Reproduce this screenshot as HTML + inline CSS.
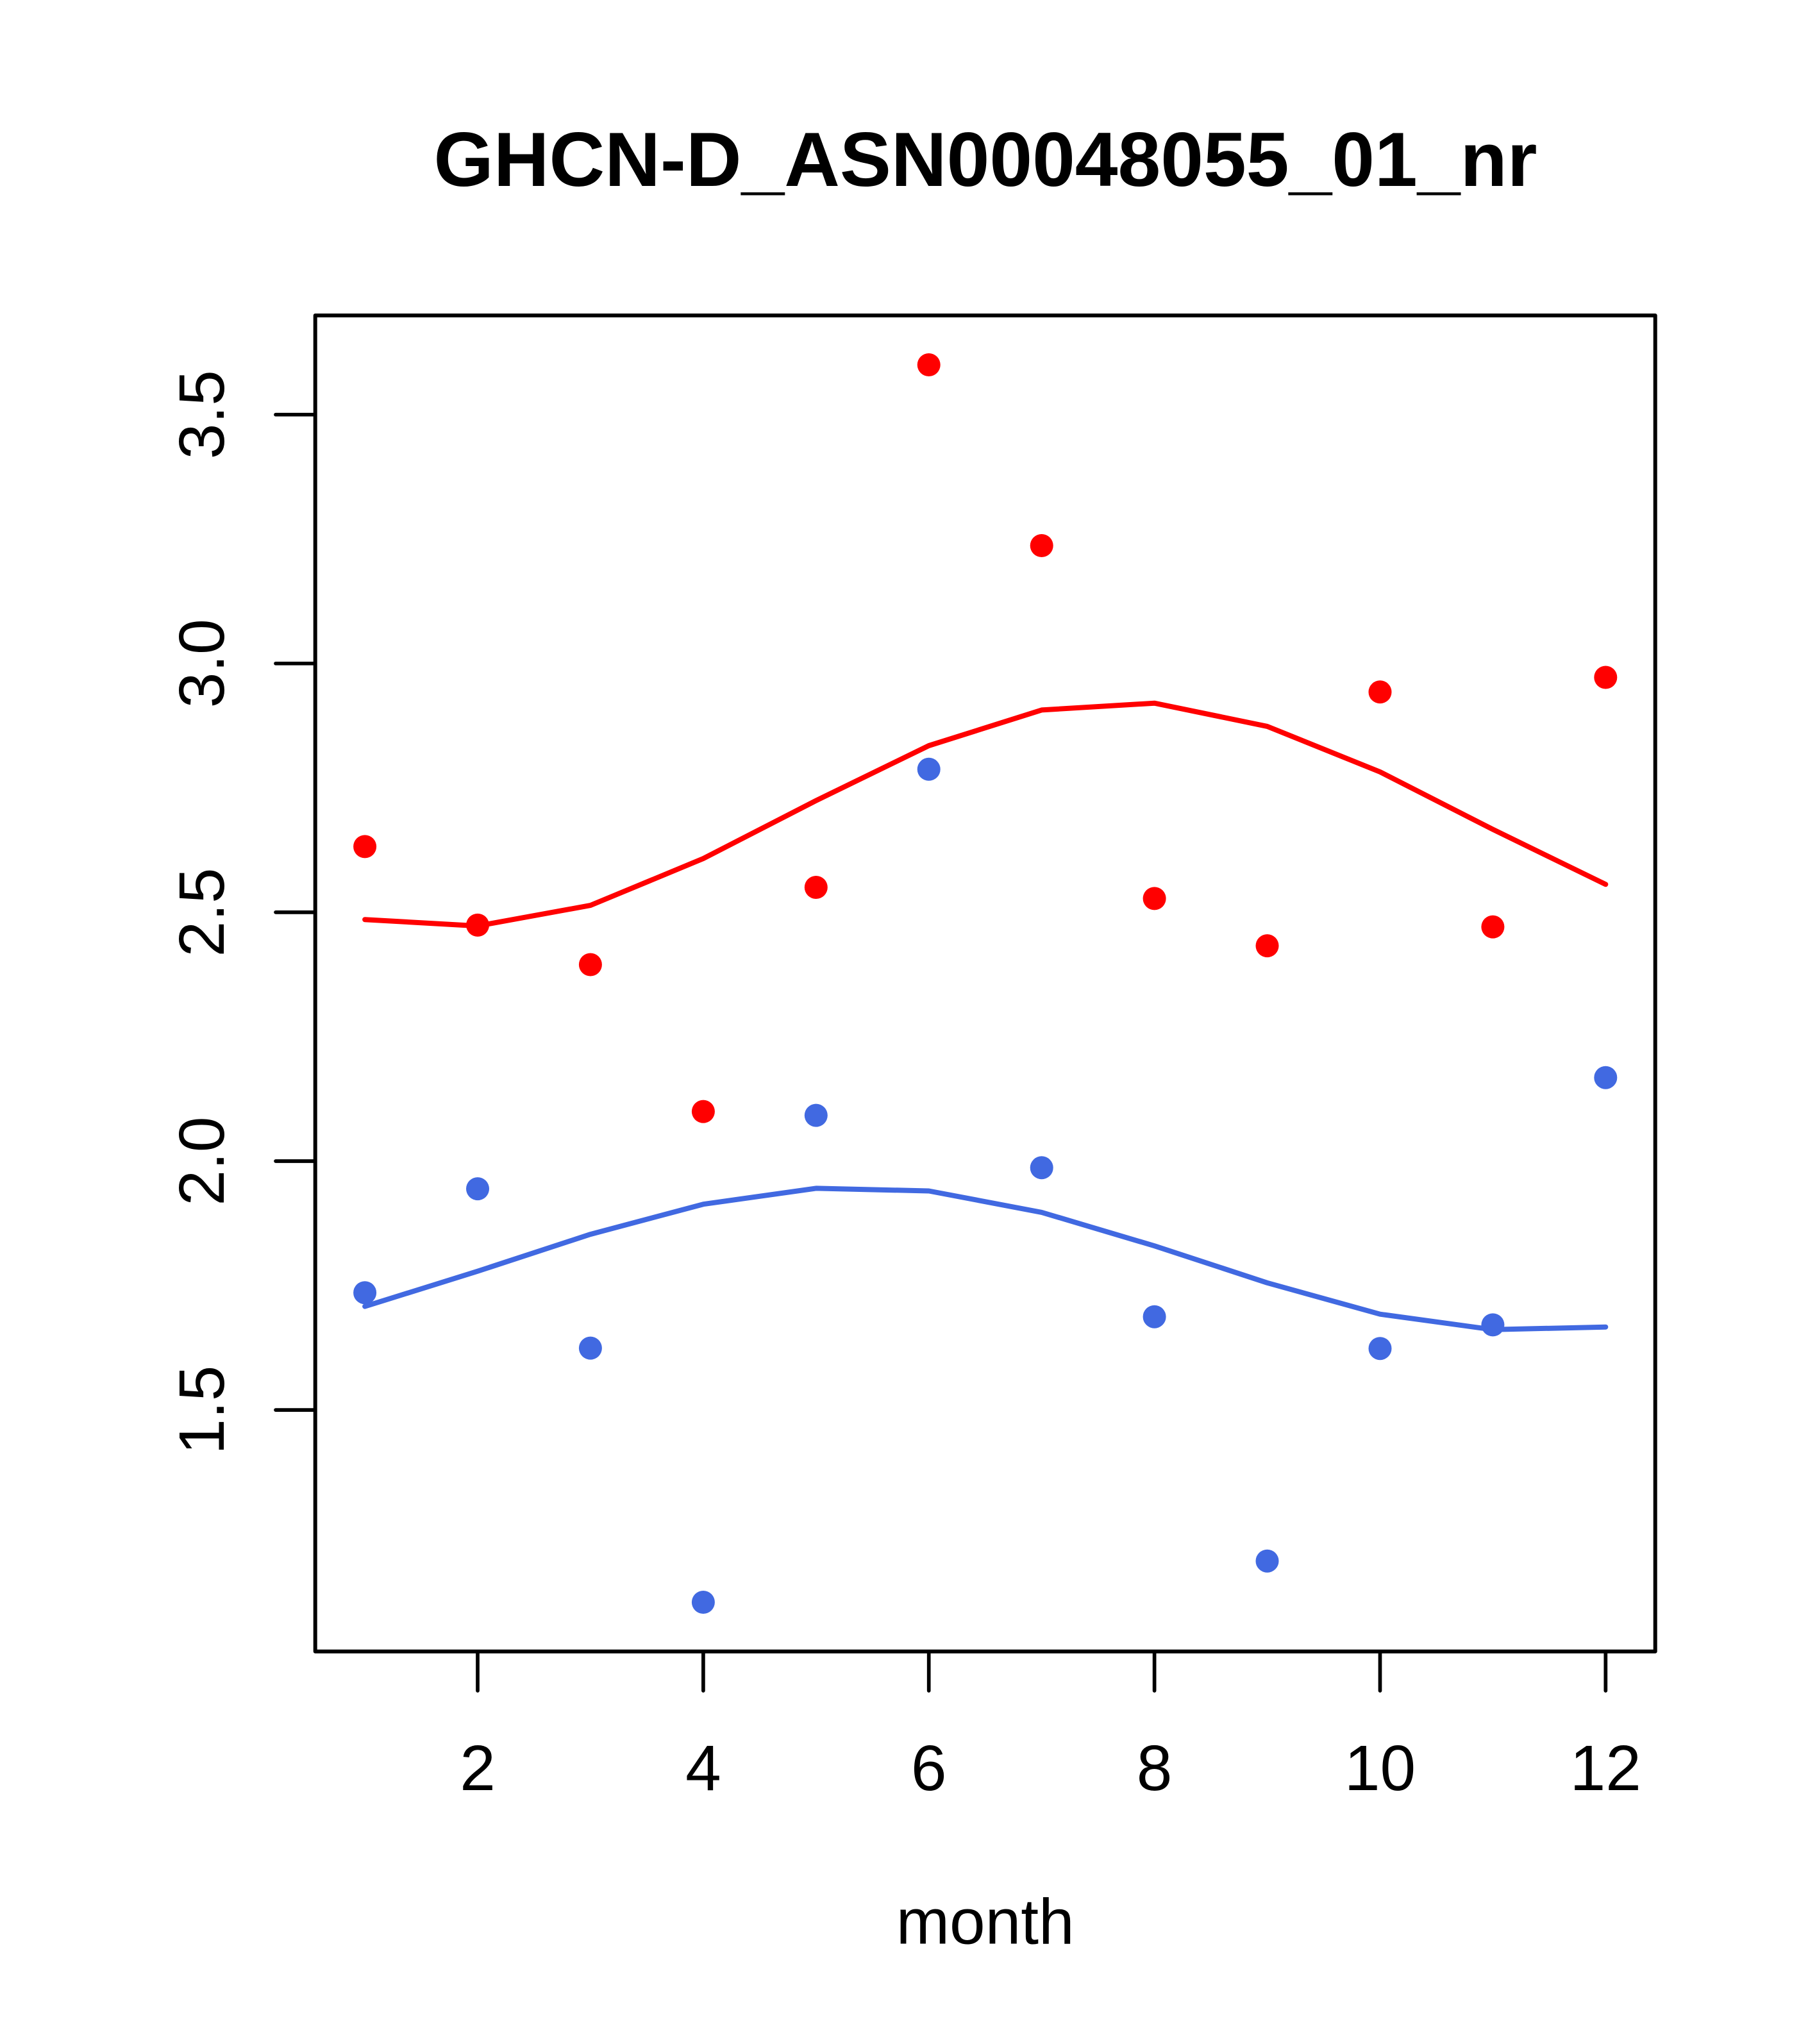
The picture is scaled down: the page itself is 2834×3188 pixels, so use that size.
<!DOCTYPE html>
<html>
<head>
<meta charset="utf-8">
<style>
  html, body { margin: 0; padding: 0; background: #ffffff; }
  svg { display: block; }
  text { font-family: "Liberation Sans", "DejaVu Sans", sans-serif; fill: #000; }
</style>
</head>
<body>
<svg width="2834" height="3188" viewBox="0 0 2834 3188" xmlns="http://www.w3.org/2000/svg">
  <rect x="0" y="0" width="2834" height="3188" fill="#ffffff"/>

  <!-- Title -->
  <text x="1537" y="290" font-size="120" font-weight="bold" text-anchor="middle">GHCN-D_ASN00048055_01_nr</text>

  <!-- Red points -->
  <g fill="#ff0000">
    <circle cx="569.1" cy="1320.4" r="18"/>
    <circle cx="745.0" cy="1442.9" r="18"/>
    <circle cx="920.9" cy="1504.5" r="18"/>
    <circle cx="1096.9" cy="1733.6" r="18"/>
    <circle cx="1272.8" cy="1384.0" r="18"/>
    <circle cx="1448.7" cy="569.0" r="18"/>
    <circle cx="1624.7" cy="851.0" r="18"/>
    <circle cx="1800.6" cy="1401.4" r="18"/>
    <circle cx="1976.5" cy="1475.1" r="18"/>
    <circle cx="2152.5" cy="1079.3" r="18"/>
    <circle cx="2328.4" cy="1445.6" r="18"/>
    <circle cx="2504.3" cy="1056.5" r="18"/>
  </g>

  <!-- Blue points -->
  <g fill="#4169e1">
    <circle cx="569.1" cy="2016.2" r="18"/>
    <circle cx="745.0" cy="1854.1" r="18"/>
    <circle cx="920.9" cy="2102.6" r="18"/>
    <circle cx="1096.9" cy="2499.0" r="18"/>
    <circle cx="1272.8" cy="1739.6" r="18"/>
    <circle cx="1448.7" cy="1199.8" r="18"/>
    <circle cx="1624.7" cy="1821.3" r="18"/>
    <circle cx="1800.6" cy="2053.7" r="18"/>
    <circle cx="1976.5" cy="2434.7" r="18"/>
    <circle cx="2152.5" cy="2103.2" r="18"/>
    <circle cx="2328.4" cy="2066.4" r="18"/>
    <circle cx="2504.3" cy="1680.7" r="18"/>
  </g>

  <!-- Red smooth line -->
  <polyline fill="none" stroke="#ff0000" stroke-width="8" stroke-linecap="round" stroke-linejoin="round"
    points="569.1,1434.2 745.0,1444.2 920.9,1412.1 1096.9,1339.1 1272.8,1248.7 1448.7,1163.0 1624.7,1107.4 1800.6,1096.7 1976.5,1132.9 2152.5,1203.9 2328.4,1293.6 2504.3,1379.3"/>

  <!-- Blue smooth line -->
  <polyline fill="none" stroke="#4169e1" stroke-width="8" stroke-linecap="round" stroke-linejoin="round"
    points="569.1,2037.6 745.0,1982.7 920.9,1925.1 1096.9,1878.2 1272.8,1853.4 1448.7,1857.5 1624.7,1890.9 1800.6,1943.2 1976.5,2000.8 2152.5,2049.7 2328.4,2073.8 2504.3,2069.7"/>

  <!-- Plot box -->
  <rect x="491.7" y="492" width="2090" height="2083.7" fill="none" stroke="#000" stroke-width="6" stroke-linejoin="round"/>

  <!-- X ticks -->
  <g stroke="#000" stroke-width="5.7" stroke-linecap="round">
    <line x1="745.0" y1="2576" x2="745.0" y2="2637"/>
    <line x1="1096.9" y1="2576" x2="1096.9" y2="2637"/>
    <line x1="1448.7" y1="2576" x2="1448.7" y2="2637"/>
    <line x1="1800.6" y1="2576" x2="1800.6" y2="2637"/>
    <line x1="2152.5" y1="2576" x2="2152.5" y2="2637"/>
    <line x1="2504.3" y1="2576" x2="2504.3" y2="2637"/>
  </g>
  <g font-size="100" text-anchor="middle">
    <text x="745.0" y="2792">2</text>
    <text x="1096.9" y="2792">4</text>
    <text x="1448.7" y="2792">6</text>
    <text x="1800.6" y="2792">8</text>
    <text x="2152.5" y="2792">10</text>
    <text x="2504.3" y="2792">12</text>
  </g>

  <!-- Y ticks -->
  <g stroke="#000" stroke-width="5.7" stroke-linecap="round">
    <line x1="430" y1="646.7" x2="491.7" y2="646.7"/>
    <line x1="430" y1="1034.8" x2="491.7" y2="1034.8"/>
    <line x1="430" y1="1422.9" x2="491.7" y2="1422.9"/>
    <line x1="430" y1="1811.0" x2="491.7" y2="1811.0"/>
    <line x1="430" y1="2199.1" x2="491.7" y2="2199.1"/>
  </g>
  <g font-size="100" text-anchor="middle">
    <text transform="translate(349,646.7) rotate(-90)">3.5</text>
    <text transform="translate(349,1034.8) rotate(-90)">3.0</text>
    <text transform="translate(349,1422.9) rotate(-90)">2.5</text>
    <text transform="translate(349,1811.0) rotate(-90)">2.0</text>
    <text transform="translate(349,2199.1) rotate(-90)">1.5</text>
  </g>

  <!-- X axis label -->
  <text x="1536.7" y="3031.7" font-size="100" text-anchor="middle">month</text>
</svg>
</body>
</html>
